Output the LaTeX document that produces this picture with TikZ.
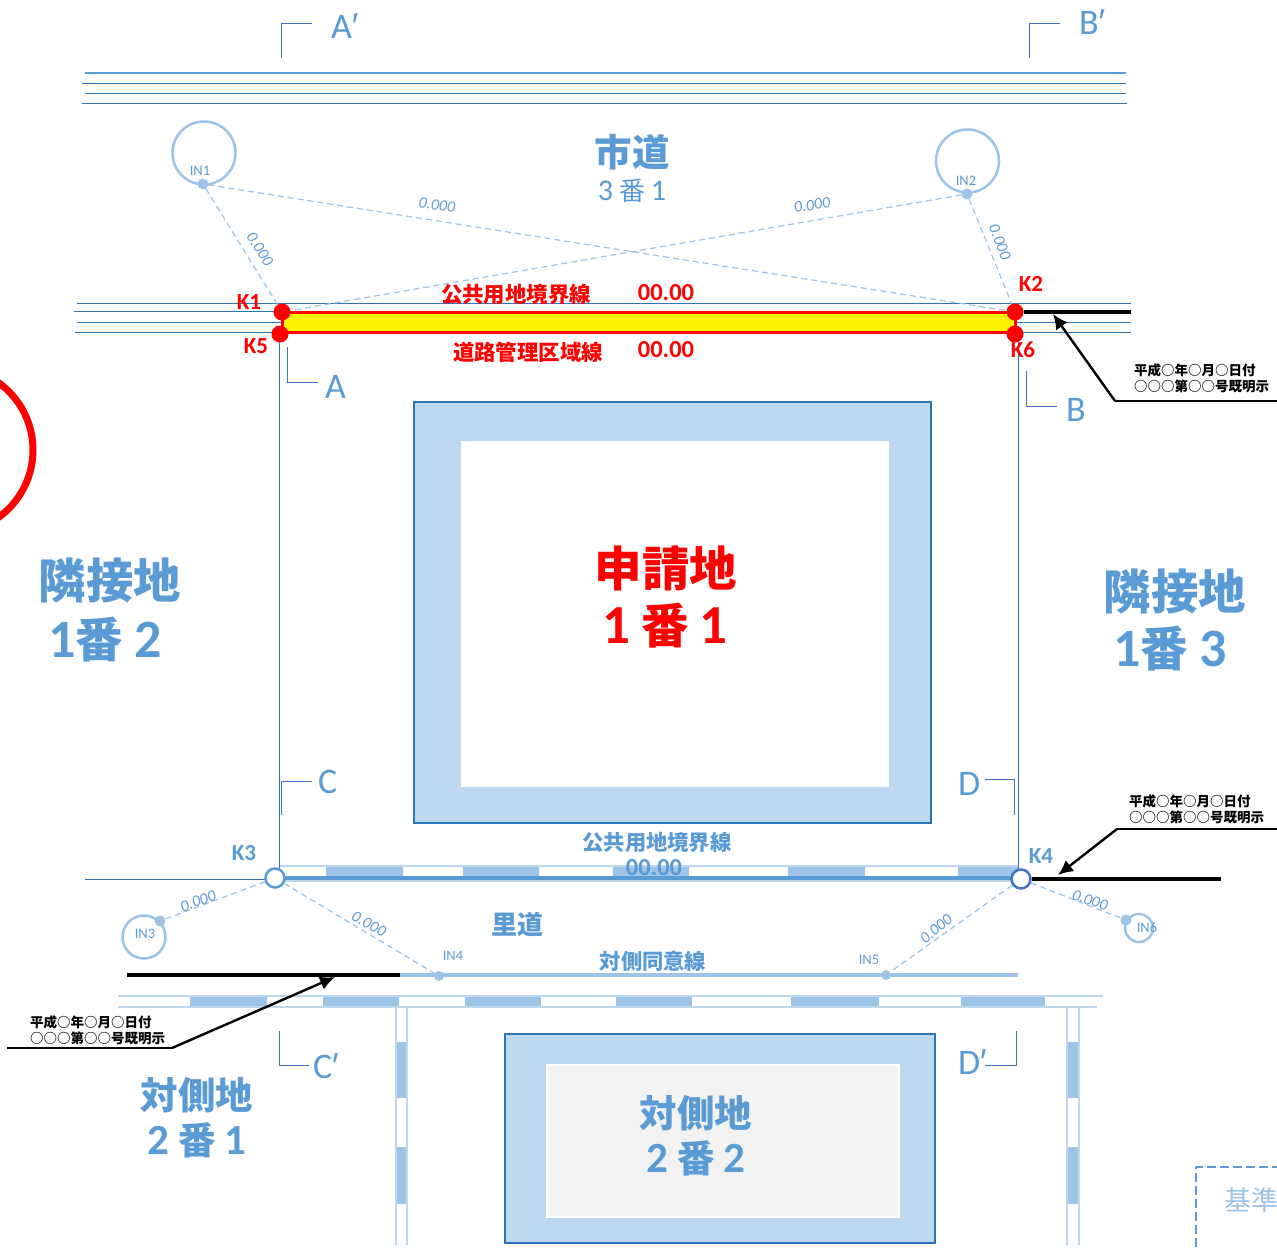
\documentclass[tikz,border=0pt]{standalone}
\usepackage{fontspec}
\setmainfont{Carlito}
\newfontfamily\jp{Noto Sans CJK JP}
\newfontfamily\primefont{Liberation Sans}
\usetikzlibrary{arrows.meta}
\definecolor{bl}{HTML}{5B9BD5}
\definecolor{dk}{HTML}{2E75B6}
\definecolor{lt}{HTML}{9DC3E6}
\definecolor{pale}{HTML}{BDD7EE}
\definecolor{idx}{HTML}{4472C4}
\newcommand{\fs}[1]{\fontsize{#1}{#1}\selectfont}
\newcommand{\pr}{{\primefont\itshape\kern-2pt ′}}
\newcommand{\dg}[2]{{\fontspec{Carlito}\fs{#1}\bfseries #2}}
\tikzset{
  roadline/.style={draw=dk,line width=1pt},
  crosssec/.style={draw=idx,line width=1pt},
  seclabel/.style={text=bl,inner sep=0pt,anchor=west,font=\fs{36}},
  distline/.style={draw=lt,line width=1.2pt,dash pattern=on 6pt off 4pt},
  distlabel/.style={text=bl,inner sep=0pt,font=\fs{16}\itshape},
  inlabel/.style={text=bl,inner sep=0pt,font=\fs{14.5}},
  indot/.style={circle,fill=lt,minimum size=11pt,inner sep=0pt},
  inring/.style={circle,draw=lt,line width=2.5pt,fill=none,inner sep=0pt},
  redpt/.style={circle,fill=red,minimum size=17pt,inner sep=0pt},
  redlabel/.style={text=red,inner sep=0pt,font=\fs{23}\bfseries},
  redjp/.style={text=red,inner sep=0pt,font=\jp\fs{21.4}\bfseries},
  openpt/.style={circle,fill=white,line width=2.5pt,minimum size=19pt,inner sep=0pt},
  kblue/.style={text=bl,inner sep=0pt,font=\fs{23}\bfseries},
  bigblue/.style={text=bl,inner sep=0pt,align=center,font=\jp\fs{47.5}\bfseries},
  midblue/.style={text=bl,inner sep=0pt,align=center,font=\jp\fs{37.5}\bfseries},
  smallblue/.style={text=bl,inner sep=0pt,font=\jp\fs{21.3}\bfseries},
  notice/.style={inner sep=0pt,anchor=west,font=\jp\fs{13.5}\bfseries},
  leader/.style={draw=black,line width=1.4pt},
  leadarrow/.style={draw=black,line width=2.4pt,-{Latex[length=15pt,width=14pt]}},
  heavy/.style={draw=black,line width=4pt},
  building/.style={draw=dk,line width=2.5pt,fill=pale},
  striprule/.style={draw=pale,line width=1.5pt},
  stripfill/.style={fill=lt,draw=none}
}
\begin{document}
\begin{tikzpicture}[x=1pt,y=-1pt]
\useasboundingbox (0,0) rectangle (1277,1250);
\clip (0,0) rectangle (1277,1250);
\fill[white] (0,0) rectangle (1277,1250);
% red circle, left edge
\draw[red,line width=7pt] (-50,450) circle (83);
% city road lines
\draw[roadline,draw=bl,line width=1.4pt] (85,73)--(1126,73);
\draw[roadline] (82,83)--(1126,83);
\draw[roadline] (85,93)--(1126,93);
\draw[roadline] (82,103)--(1127,103);
% cross-section brackets
\draw[crosssec] (281,58)--(281,23)--(312,23);
\draw[crosssec] (1029,58)--(1029,23)--(1060,23);
\node[seclabel] (ap) at (331,26) {A\pr};
\node[seclabel] (bp) at (1079,22) {B\pr};
\draw[crosssec] (287,347)--(287,382)--(318,382);
\draw[crosssec] (1026,371)--(1026,406)--(1057,406);
\node[seclabel] (a) at (325,387) {A};
\node[seclabel] (b) at (1066,410) {B};
\draw[crosssec] (281,815)--(281,781)--(312,781);
\draw[crosssec] (985,779)--(1014,779)--(1014,815);
\node[seclabel] (c) at (318,782) {C};
\node[seclabel] (d) at (958,784) {D};
\draw[crosssec] (279,1031)--(279,1065)--(309,1065);
\draw[crosssec] (1016,1031)--(1016,1065)--(985,1065);
\node[seclabel] (cp) at (313,1066) {C\pr};
\node[seclabel] (dp) at (958,1062) {D\pr};
% road lines at site front
\draw[roadline] (77,303)--(1131,303);
\draw[roadline] (74,311)--(282,311);
\draw[roadline] (77,322)--(1131,322);
\draw[roadline] (75,332)--(1131,332);
% site boundary
\draw[roadline] (279,335)--(279,878);
\draw[roadline] (1018,340)--(1018,870);
% buildings
\path[building] (414,402) rectangle (931,823);
\fill[white] (461,441) rectangle (889,787);
\path[building] (505,1034) rectangle (935,1243);
\filldraw[fill=black!5,draw=white,line width=2.5pt] (547,1065) rectangle (899,1217);
% front strip
\foreach \xa/\xb in {326/402.5,462.5/538.5,612.5/689,788/864.5,958/1018}
  \path[stripfill] (\xa,866) rectangle (\xb,878);
\draw[striprule] (280,866)--(1018,866);
\draw[striprule] (280,881)--(1018,881);
\draw[draw=bl,line width=4pt] (280,878)--(1018,878);
\draw[roadline] (85,879)--(265,879);
% opposite consent line
\draw[draw=lt,line width=3.5pt] (400,975)--(1018,975);
% opposite strip
\foreach \xa/\xb in {190/267,322.5/398.5,465/541,616/692,791/879,961/1045}
  \path[stripfill] (\xa,996) rectangle (\xb,1007);
\draw[striprule] (118,996)--(1103,996);
\draw[striprule] (118,1007)--(1097,1007);
% vertical strips
\foreach \xa/\xb in {396/407,1067/1079}{
  \path[stripfill] (\xa,1042) rectangle (\xb,1098);
  \path[stripfill] (\xa,1147) rectangle (\xb,1204);
  \draw[striprule] (\xa,1007)--(\xa,1245);
  \draw[striprule] (\xb,1007)--(\xb,1245);
}
% yellow boundary band
\filldraw[fill=yellow,draw=red,line width=3pt] (282,312) rectangle (1015,332);
% black heavy lines
\coordinate (h2) at (1131,312);
\coordinate (h4) at (1221,879);
\coordinate (h0) at (127,975);
\coordinate (h1) at (400,975);
% points
\node[redpt] (K1) at (282,312) {};
\node[redpt] (K5) at (280,334) {};
\node[redpt] (K2) at (1015,312) {};
\node[redpt] (K6) at (1015,334) {};
\node[openpt,draw=bl] (K3) at (275,878) {};
\node[openpt,draw=idx] (K4) at (1021,879) {};
\draw[heavy] (K2.east)--(h2);
\draw[heavy] (K4.east)--(h4);
\draw[heavy] (h0)--(h1);
% IN points
\node[inring,minimum size=63pt] (R1) at (204,153) {};
\node[inring,minimum size=63pt] (R2) at (967.5,161) {};
\node[inring,minimum size=43pt] (R3) at (144,937) {};
\node[inring,minimum size=28pt] (R6) at (1139,928) {};
\node[indot] (IN1) at (203,184) {};
\node[indot] (IN2) at (967,194) {};
\node[indot] (IN3) at (160,921) {};
\node[indot,minimum size=10pt] (IN4) at (439,976) {};
\node[indot,minimum size=10pt] (IN5) at (886,975) {};
\node[indot] (IN6) at (1126,920) {};
\node[inlabel] (l1) at (200,171) {IN1};
\node[inlabel] (l2) at (966,181) {IN2};
\node[inlabel] (l3) at (145,934) {IN3};
\node[inlabel] (l4) at (453,956) {IN4};
\node[inlabel] (l5) at (869,960) {IN5};
\node[inlabel] (l6) at (1147,928) {IN6};
% distance lines
\draw[distline] (IN1)--(K1);
\draw[distline] (IN1)--(K2);
\draw[distline] (IN2)--(K1);
\draw[distline] (IN2)--(K2);
\draw[distline] (K3)--(IN3);
\draw[distline] (K3)--(IN4);
\draw[distline] (K4)--(IN5);
\draw[distline] (K4)--(IN6);
\node[distlabel,rotate=-57] (d1) at (260,249) {0.000};
\node[distlabel,rotate=-8] (d2) at (437,205) {0.000};
\node[distlabel,rotate=9] (d3) at (812,205) {0.000};
\node[distlabel,rotate=-69] (d4) at (1000,242) {0.000};
\node[distlabel,rotate=20] (d5) at (198,901) {0.000};
\node[distlabel,rotate=-28] (d6) at (369,924) {0.000};
\node[distlabel,rotate=40] (d7) at (936,929) {0.000};
\node[distlabel,rotate=-18] (d8) at (1090,900) {0.000};
% K labels
\node[redlabel] (tK1) at (249,302) {K1};
\node[redlabel] (tK5) at (256,346) {K5};
\node[redlabel] (tK2) at (1031,284) {K2};
\node[redlabel] (tK6) at (1023,350) {K6};
\node[kblue] (tK3) at (244,853) {K3};
\node[kblue] (tK4) at (1041,856) {K4};
% red labels
\node[redjp] (r1) at (516,294) {公共用地境界線};
\node[redlabel,font=\fs{24.5}\bfseries] (r2) at (666,293) {00.00};
\node[redjp] (r3) at (528,352) {道路管理区域線};
\node[redlabel,font=\fs{24.5}\bfseries] (r4) at (666,350) {00.00};
\node[text=red,inner sep=0pt,align=center,font=\jp\fs{47.5}\bfseries] (site) at (666,568) {申請地};
\node[text=red,inner sep=0pt,font=\jp\fs{47.5}\bfseries] (site2) at (665,626) {\dg{55}{1} 番 \dg{55}{1}};
% blue labels
\node[midblue] (city) at (632,152) {市道};
\node[text=bl,inner sep=0pt,font=\jp\fs{26}] (city2) at (632,191) {{\fontspec{Carlito}\fs{30}3} 番 {\fontspec{Carlito}\fs{30}1}};
\node[bigblue] (n1) at (110,581) {隣接地};
\node[bigblue] (n1b) at (105,640) {\dg{54}{1}番 \dg{54}{2}};
\node[bigblue] (n2) at (1175,592) {隣接地};
\node[bigblue] (n2b) at (1170,649) {\dg{54}{1}番 \dg{54}{3}};
\node[smallblue] (f1) at (657,842) {公共用地境界線};
\node[kblue,font=\fs{24.5}\bfseries] (f2) at (654,868) {00.00};
\node[text=bl,inner sep=0pt,font=\jp\fs{26}\bfseries] (sato) at (517,924) {里道};
\node[smallblue] (f3) at (653,961) {対側同意線};
\node[midblue] (o1) at (197,1095) {対側地};
\node[midblue] (o1b) at (197,1140) {\dg{43}{2} 番 \dg{43}{1}};
\node[midblue] (o2) at (696,1113) {対側地};
\node[midblue] (o2b) at (696,1158) {\dg{43}{2} 番 \dg{43}{2}};
% notices
\node[notice] (a1) at (1134,370) {平成○年○月○日付};
\node[notice] (a2) at (1134,386) {○○○第○○号既明示};
\node[notice] (b1) at (1129,801) {平成○年○月○日付};
\node[notice] (b2) at (1129,817) {○○○第○○号既明示};
\node[notice] (c1) at (30,1022) {平成○年○月○日付};
\node[notice] (c2) at (30,1038) {○○○第○○号既明示};
\coordinate (e1) at (1277,401);
\coordinate (j1) at (1115,401);
\coordinate (t1) at (1053,314);
\coordinate (e2) at (1277,829);
\coordinate (j2) at (1117,829);
\coordinate (t2) at (1058,875);
\coordinate (e3) at (7,1048);
\coordinate (j3) at (172,1048);
\coordinate (t3) at (335,977);
\draw[leader] (e1)--(j1);
\draw[leadarrow] (j1)--(t1);
\draw[leader] (e2)--(j2);
\draw[leadarrow] (j2)--(t2);
\draw[leader] (e3)--(j3);
\draw[leadarrow] (j3)--(t3);
% reference box
\draw[draw=bl,line width=2.5pt,dash pattern=on 9pt off 4pt] (1196,1260)--(1196,1167)--(1290,1167);
\node[text=lt,inner sep=0pt,anchor=west,font=\jp\fs{27}] (ref) at (1224,1200) {基準};
\end{tikzpicture}
\end{document}
